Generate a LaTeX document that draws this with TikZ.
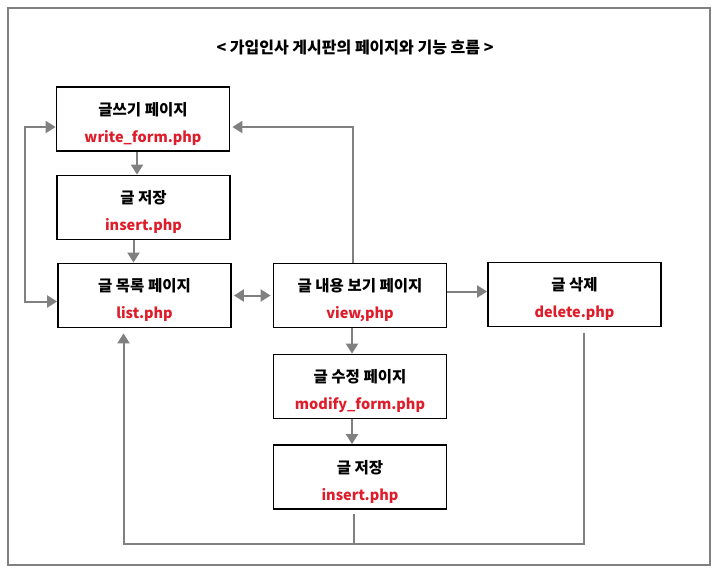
\documentclass[tikz,border=0pt]{standalone}
\usepackage{fontspec}
\setmainfont{Noto Sans CJK KR}
\usepackage{xcolor}
\usetikzlibrary{arrows.meta}
\definecolor{linegray}{RGB}{128,128,128}
\definecolor{phpred}{RGB}{222,28,42}
\newcommand{\php}[1]{{\fontsize{14.5}{16}\selectfont\textcolor{phpred}{#1}}}

\begin{document}
\begin{tikzpicture}[x=1pt,y=-1pt,
	page/.style={draw=black, line width=1.8pt, minimum width=173pt, minimum height=64pt,
		align=center, font=\fontsize{15.5}{27}\selectfont\bfseries, inner sep=0pt},
	flow/.style={draw=linegray, line width=2pt, -{Triangle[length=10pt,width=12pt]}},
	twoway/.style={draw=linegray, line width=2pt, {Triangle[length=10pt,width=12pt]}-{Triangle[length=10pt,width=12pt]}},
	plain/.style={draw=linegray, line width=2pt}]
	\useasboundingbox (0,0) rectangle (719,576);
	\draw[draw=linegray, line width=1.5pt] (8,8) rectangle (710,565);
	
	\node[font=\fontsize{16}{18}\selectfont\bfseries] (title) at (355,48)
	{< 가입인사 게시판의 페이지와 기능 흐름 >};
	
	% left column
	\node[page] (write) at (143,119)   {\rule{0pt}{22pt}글쓰기 페이지\\\php{write\_form.php}};
	\node[page] (ins1)  at (143.5,207.5) {\rule{0pt}{22pt}글 저장\\\php{insert.php}};
	\node[page] (list)  at (144.5,295.5) {\rule{0pt}{22pt}글 목록 페이지\\\php{list.php}};
	
	% middle and right column
	\node[page] (view)  at (360,295.5) {\rule{0pt}{22pt}글 내용 보기 페이지\\\php{view,php}};
	\node[page] (del)   at (574.5,294.5) {\rule{0pt}{22pt}글 삭제\\\php{delete.php}};
	\node[page] (modify) at (360,386.5) {\rule{0pt}{22pt}글 수정 페이지\\\php{modify\_form.php}};
	\node[page] (ins2)  at (360,477)   {\rule{0pt}{22pt}글 저장\\\php{insert.php}};
	
	% straight arrows
	\draw[flow] ([xshift=-6pt]write.south) -- ([xshift=-6pt]write.south |- ins1.north);
	\draw[flow] ([xshift=-10pt]ins1.south) -- ([xshift=-10pt]ins1.south |- list.north);
	\draw[twoway, shorten <=2pt, shorten >=2pt] (list.east) -- (view.west);
	\draw[flow] ([yshift=4pt]view.east) -- ([yshift=4pt]view.east -| del.west);
	\draw[flow] ([xshift=-8pt]view.south) -- ([xshift=-8pt]view.south |- modify.north);
	\draw[flow] ([xshift=-8pt]modify.south) -- ([xshift=-8pt]modify.south |- ins2.north);
	
	% loops round the boxes
	\draw[twoway] ([yshift=-8pt]write.west) -- ++(-31,0) |- ([yshift=-6pt]list.west);
	\draw[flow] ([xshift=-7pt]view.north) |- ([yshift=-8pt,xshift=2pt]write.east);
	\draw[flow] ([xshift=-6pt,yshift=-4pt]ins2.south) -- ++(0,30) coordinate (base)
	-| ([xshift=-21pt,yshift=-5pt]list.south);
	\draw[plain] ([xshift=9pt,yshift=-6pt]del.south) |- (base);
\end{tikzpicture}
\end{document}
